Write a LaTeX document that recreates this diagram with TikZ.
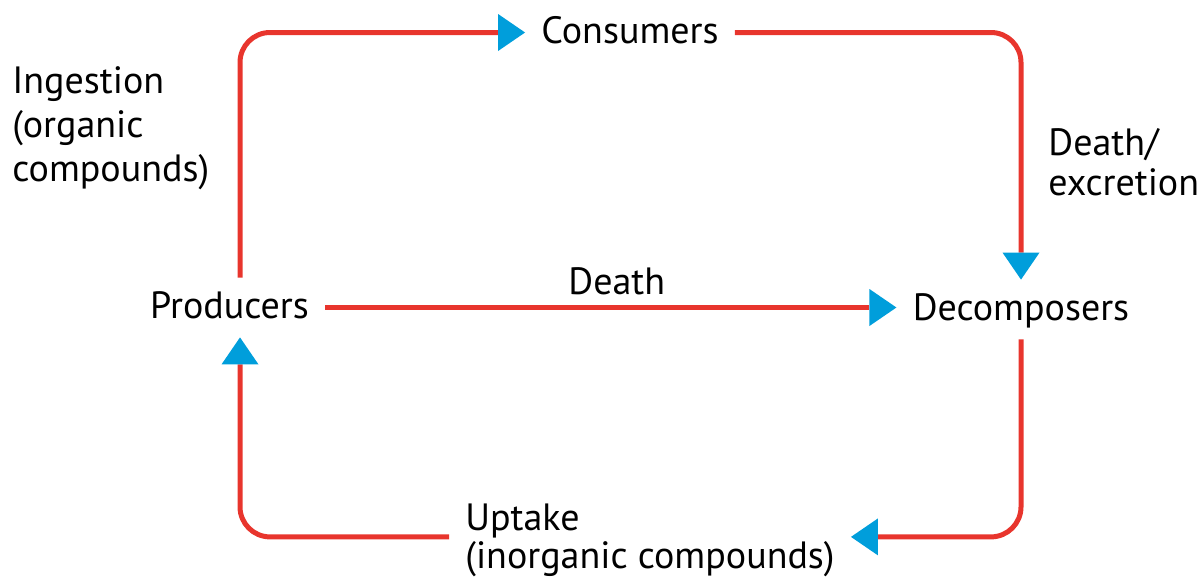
\documentclass[tikz,border=0pt]{standalone}
\usepackage{fontspec}
\setmainfont{PT Sans}
\usetikzlibrary{arrows.meta,positioning,calc}

\definecolor{flowred}{RGB}{232,53,45}
\definecolor{tipblue}{RGB}{0,158,219}

\tikzset{
  flow/.style={draw=flowred, line width=2.5pt, rounded corners=15pt,
    -{Triangle[length=13.5pt,width=18.5pt,line width=0pt,color=tipblue,fill=tipblue]}},
  pool/.style={inner xsep=8pt, inner ysep=7pt, text height=13pt, text depth=2.5pt, anchor=base},
  note/.style={inner sep=0pt, align=left, anchor=base west}
}

\begin{document}
\begin{tikzpicture}[x=0.5pt,y=-0.5pt,font=\fontsize{19}{22}\selectfont]
\useasboundingbox (0,0) rectangle (1203,579);
% pools
\node[pool] (prod) at (229.5,318) {Producers};
\node[pool] (cons) at (630,43) {Consumers};
\node[pool] (decomp) at (1021,320) {Decomposers};
\node[inner xsep=8pt, inner ysep=0pt, align=left, anchor=base west,
  font=\fontsize{19}{19}\selectfont] (upt) at (449,568) {Uptake\\(inorganic compounds)};
% flows
\draw[flow] ([xshift=5.25pt]prod.north) |- (cons.west);
\draw[flow] (cons.east) -| (decomp.north);
\draw[flow] (prod.east) -- (prod.east -| decomp.west);
\draw[flow] (decomp.south) |- ([yshift=1.5pt]upt.east);
\draw[flow] ([yshift=1.5pt]upt.west) -| ([xshift=5.25pt]prod.south);
% labels
\node[note] (ingest) at (12,181) {Ingestion\\(organic\\compounds)};
\node[note, font=\fontsize{19}{20}\selectfont] (excr) at (1048,195) {Death/\\excretion};
\node[note] (death) at (568,294) {Death};
\end{tikzpicture}
\end{document}
